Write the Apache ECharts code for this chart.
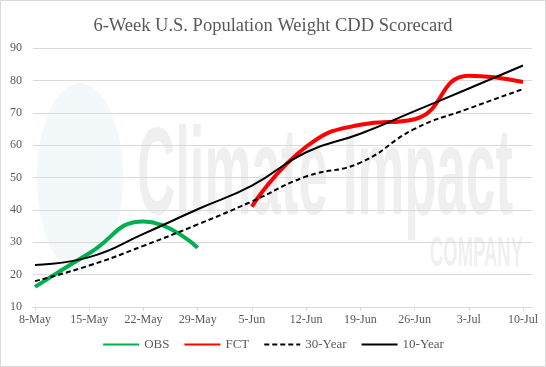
<!DOCTYPE html>
<html><head><meta charset="utf-8">
<script src="https://cdn.jsdelivr.net/npm/echarts@6/dist/echarts.min.js"></script>
<style>html,body{margin:0;padding:0;background:#fff}#c{width:546px;height:367px}</style>
</head><body><div id="c"></div>
<script>
// ---- data ----
const tickLabels = ['8-May','15-May','22-May','29-May','5-Jun','12-Jun','19-Jun','26-Jun','3-Jul','10-Jul'];
const dayOffsets = [0, 7, 14, 21, 28, 35, 42, 49, 56, 63];
const obsValues = [16.2, 26.6, 36.4, 28.3];            // starts at 8-May
const fctValues = [41.0, 59.5, 66.3, 68.0, 81.4, 79.5]; // starts at 5-Jun
const year30Values = [18.0, 22.8, 28.9, 35.5, 42.6, 50.3, 54.6, 65.0, 71.3, 77.3];
const year10Values = [23.0, 25.4, 32.6, 40.2, 47.5, 57.8, 63.5, 70.5, 77.5, 84.6];
const obsStartIndex = 0;
const fctStartIndex = 4;

function pairs(values, start) {
  return values.map((v, i) => [dayOffsets[start + i], v]);
}
function fitScale(text, font, target) {
  const ctx = document.createElement('canvas').getContext('2d');
  ctx.font = font;
  return target / ctx.measureText(text).width;
}

const serif = '"Liberation Serif", "Times New Roman", serif';
const grey = '#595959';
const wmFont1 = 'bold 124px "Liberation Sans Narrow", "Liberation Sans", sans-serif';
const wmFont2 = 'bold 42px "Liberation Sans Narrow", "Liberation Sans", sans-serif';
const sx1 = fitScale('Climate Impact', wmFont1, 376);
const sx2 = fitScale('COMPANY', wmFont2, 93);

const chart = echarts.init(document.getElementById('c'), null, {renderer: 'canvas'});
const smooth = 0.5;
chart.setOption({
  animation: false,
  backgroundColor: '#fff',
  title: {
    text: '6-Week U.S. Population Weight CDD Scorecard',
    left: 'center', top: 12,
    textStyle: {fontFamily: serif, fontSize: 18.5, fontWeight: 'normal', color: grey}
  },
  grid: {left: 33, right: 14, top: 48, bottom: 60, containLabel: false},
  legend: {
    bottom: 11, left: 'center',
    itemWidth: 36, itemHeight: 12, itemGap: 14,
    itemStyle: {opacity: 0},
    textStyle: {fontFamily: serif, fontSize: 13, color: grey},
    data: ['OBS', 'FCT', '30-Year', '10-Year']
  },
  graphic: [
    {type: 'ellipse', z: -10, shape: {cx: 80, cy: 178, rx: 43, ry: 95},
     style: {fill: '#f3f8fa'}, silent: true},
    {type: 'text', z: -10, x: 137, y: 118, scaleX: sx1, silent: true,
     style: {text: 'Climate Impact', font: wmFont1, fill: '#efefef', textVerticalAlign: 'top'}},
    {type: 'text', z: -10, x: 430, y: 233, scaleX: sx2, silent: true,
     style: {text: 'COMPANY', font: wmFont2, fill: '#f0f0f0', textVerticalAlign: 'top'}},
    {type: 'rect', z: 100, silent: true, shape: {x: 0.5, y: 0.5, width: 545, height: 366},
     style: {fill: 'none', stroke: '#d9d9d9', lineWidth: 1}}
  ],
  xAxis: {
    type: 'value', min: -0.26, max: 64.16,
    splitLine: {show: false},
    axisLine: {show: true, lineStyle: {color: '#d9d9d9', width: 1}},
    axisTick: {show: true, customValues: dayOffsets, length: 4, lineStyle: {color: '#d9d9d9'}},
    axisLabel: {
      customValues: dayOffsets, margin: 7,
      fontFamily: serif, fontSize: 12, color: grey,
      formatter: v => tickLabels[dayOffsets.indexOf(Math.round(v))]
    }
  },
  yAxis: {
    type: 'value', min: 10, max: 90, interval: 10,
    axisLine: {show: false}, axisTick: {show: false},
    splitLine: {lineStyle: {color: '#d9d9d9', width: 1}},
    axisLabel: {margin: 11, fontFamily: serif, fontSize: 12, color: grey}
  },
  series: [
    {name: 'OBS', type: 'line', data: pairs(obsValues, obsStartIndex), smooth, symbol: 'none',
     lineStyle: {color: '#00B050', width: 4}, itemStyle: {color: '#00B050'}, z: 3},
    {name: 'FCT', type: 'line', data: pairs(fctValues, fctStartIndex), smooth, symbol: 'none',
     lineStyle: {color: '#FF0000', width: 4}, itemStyle: {color: '#FF0000'}, z: 3},
    {name: '30-Year', type: 'line', data: pairs(year30Values, 0), smooth, symbol: 'none',
     lineStyle: {color: '#000', width: 2, type: [5, 3]}, itemStyle: {color: '#000'}, z: 4},
    {name: '10-Year', type: 'line', data: pairs(year10Values, 0), smooth, symbol: 'none',
     lineStyle: {color: '#000', width: 2}, itemStyle: {color: '#000'}, z: 4}
  ]
});
</script>
</body></html>
